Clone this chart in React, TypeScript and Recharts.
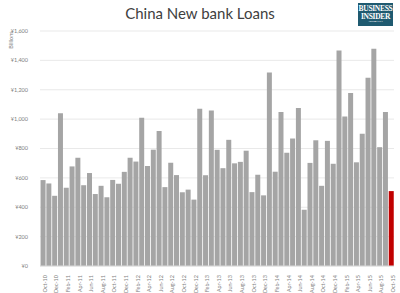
import React from 'react';
import { BarChart, Bar, XAxis, YAxis, CartesianGrid, Cell } from 'recharts';

const months: string[] = [
  'Oct-10', 'Nov-10', 'Dec-10',
  'Jan-11', 'Feb-11', 'Mar-11', 'Apr-11', 'May-11', 'Jun-11', 'Jul-11', 'Aug-11', 'Sep-11', 'Oct-11', 'Nov-11', 'Dec-11',
  'Jan-12', 'Feb-12', 'Mar-12', 'Apr-12', 'May-12', 'Jun-12', 'Jul-12', 'Aug-12', 'Sep-12', 'Oct-12', 'Nov-12', 'Dec-12',
  'Jan-13', 'Feb-13', 'Mar-13', 'Apr-13', 'May-13', 'Jun-13', 'Jul-13', 'Aug-13', 'Sep-13', 'Oct-13', 'Nov-13', 'Dec-13',
  'Jan-14', 'Feb-14', 'Mar-14', 'Apr-14', 'May-14', 'Jun-14', 'Jul-14', 'Aug-14', 'Sep-14', 'Oct-14', 'Nov-14', 'Dec-14',
  'Jan-15', 'Feb-15', 'Mar-15', 'Apr-15', 'May-15', 'Jun-15', 'Jul-15', 'Aug-15', 'Sep-15', 'Oct-15',
];

const loans: number[] = [
  585, 562, 478,
  1040, 533, 678, 737, 550, 633, 490, 546, 468, 586, 560, 641,
  737, 711, 1010, 681, 792, 920, 537, 703, 619, 502, 520, 452,
  1070, 618, 1059, 791, 666, 859, 699, 709, 785, 503, 621, 481,
  1318, 642, 1049, 771, 868, 1076, 383, 702, 856, 546, 852, 696,
  1468, 1018, 1178, 706, 900, 1281, 1480, 809, 1048, 510,
];

const yTicks: number[] = [0, 200, 400, 600, 800, 1000, 1200, 1400, 1600];

const data = months.map((m, i) => ({ month: m, value: loans[i] }));

const fmtYen = (v: number) => '\u00A5' + v.toLocaleString('en-US');

export default function App() {
  return (
    <div style={{ position: 'absolute', left: 0, top: 0, width: 400, height: 293, background: '#ffffff', overflow: 'hidden' }}>
      <div
        style={{
          position: 'absolute', left: 0, top: 4, width: 400, textAlign: 'center',
          fontFamily: 'Lato, "Open Sans", sans-serif', fontSize: 15, color: '#404040', lineHeight: '18px',
        }}
      >
        China New bank Loans
      </div>
      <div
        style={{
          position: 'absolute', left: 358, top: 3, width: 35, height: 23, background: '#1f5a70',
          color: '#ffffff', fontFamily: '"Liberation Serif", "DejaVu Serif", serif', fontWeight: 'bold',
          textAlign: 'center', lineHeight: '7px',
        }}
      >
        <div style={{ fontSize: 7.5, marginTop: 2, letterSpacing: -0.3 }}>BUSINESS</div>
        <div style={{ fontSize: 7.5, marginTop: 1, letterSpacing: -0.3 }}>INSIDER</div>
        <div style={{ fontSize: 2.5, marginTop: 0, lineHeight: '3px' }}>AUSTRALIA</div>
      </div>
      <div
        style={{
          position: 'absolute', left: 11, top: 40, transform: 'translate(-50%, -50%) rotate(-90deg)',
          fontFamily: 'Lato, sans-serif', fontSize: 5.5, color: '#808080', whiteSpace: 'nowrap',
        }}
      >
        Billions
      </div>
      <div style={{ position: 'absolute', left: 0, top: 0 }}>
        <BarChart
          width={400}
          height={293}
          data={data}
          margin={{ top: 31, right: 6, left: 0, bottom: 0 }}
          barCategoryGap="9.5%"
        >
          <CartesianGrid vertical={false} stroke="#e3e3e3" strokeWidth={0.8} />
          <XAxis
            dataKey="month"
            height={27}
            interval={1}
            tickLine={false}
            axisLine={{ stroke: '#d9d9d9' }}
            tickMargin={3}
            angle={-90}
            textAnchor="end"
            tick={{ fontSize: 5.5, fill: '#808080', fontFamily: 'Lato, sans-serif' }}
          />
          <YAxis
            width={40}
            domain={[0, 1600]}
            ticks={yTicks}
            tickFormatter={fmtYen}
            tickLine={false}
            axisLine={false}
            tickMargin={6}
            tick={{ fontSize: 5.5, fill: '#808080', fontFamily: 'Lato, sans-serif' }}
          />
          <Bar dataKey="value" isAnimationActive={false}>
            {data.map((d, i) => (
              <Cell key={d.month} fill={i === data.length - 1 ? '#c00000' : '#a5a5a5'} />
            ))}
          </Bar>
        </BarChart>
      </div>
    </div>
  );
}
